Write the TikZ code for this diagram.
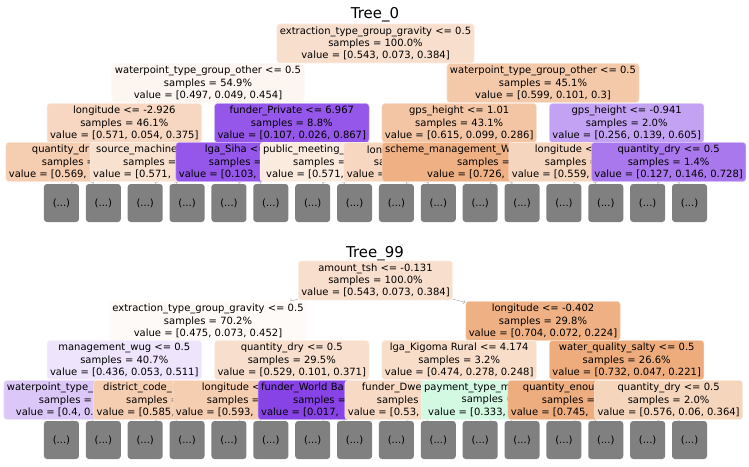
\documentclass[tikz,border=0pt]{standalone}
\usepackage{fontspec}
\setmainfont{DejaVu Sans}
\usetikzlibrary{backgrounds}
\definecolor{cls0}{RGB}{229,129,57}
\definecolor{cls1}{RGB}{57,229,129}
\definecolor{cls2}{RGB}{129,57,229}
\newlength{\pxu}
\setlength{\pxu}{0.75pt}
\newcommand{\trunc}[2]{\makebox[#2\pxu][l]{#1}}

\begin{document}
\begin{tikzpicture}[x=0.75pt, y=-0.75pt,
        box/.style = {draw=#1!50!white, fill=#1, rounded corners=2.25pt, align=center, inner xsep=2.25pt, inner ysep=0pt, minimum height=29.25pt, font=\fontsize{7.5}{9.2}\selectfont, execute at begin node={\rule{0pt}{7pt}}},
        more/.style = {fill=gray, rounded corners=2.25pt, minimum width=26.25pt, minimum height=28.5pt, inner sep=0pt, font=\fontsize{7.5}{9}\selectfont},
        heading/.style = {anchor=base, font=\fontsize{11.2}{13}\selectfont},
        branch/.style = {draw=gray!60, line width=0.4pt, ->},]
        \useasboundingbox (0,0) rectangle (749,467);

        \node[heading] (t0) at (375,19) {Tree\_0};
        \node[box=cls0!25.8!white] (a1) at (375.5,43.5) {extraction\_type\_group\_gravity <= 0.5\\samples = 100.0\%\\value = [0.543, 0.073, 0.384]};
        \node[box=cls0!7.9!white] (a2) at (208,83) {waterpoint\_type\_group\_other <= 0.5\\samples = 54.9\%\\value = [0.497, 0.049, 0.454]};
        \node[box=cls0!42.7!white] (a3) at (543,83) {waterpoint\_type\_group\_other <= 0.5\\samples = 45.1\%\\value = [0.599, 0.101, 0.3]};
        \node[box=cls0!31.4!white] (a4) at (124.3,123) {longitude <= -2.926\\samples = 46.1\%\\value = [0.571, 0.054, 0.375]};
        \node[box=cls2!85.1!white] (a5) at (291.8,123) {funder\_Private <= 6.967\\samples = 8.8\%\\value = [0.107, 0.026, 0.867]};
        \node[box=cls0!46.1!white] (a6) at (459.2,123) {gps\_height <= 1.01\\samples = 43.1\%\\value = [0.615, 0.099, 0.286]};
        \node[box=cls2!46.9!white] (a7) at (626.7,123) {gps\_height <= -0.941\\samples = 2.0\%\\value = [0.256, 0.139, 0.605]};
        \node[box=cls0!40!white] (a8) at (82.4,162) {\trunc{quantity\_dr}{101}\\\trunc{samples =}{81}\\\trunc{value = [0.569,}{147}};
        \node[box=cls0!24!white] (a9) at (166.2,162) {\trunc{source\_machine}{140}\\\trunc{samples =}{86}\\\trunc{value = [0.571,}{146}};
        \node[box=cls2!85!white] (a10) at (249.9,162) {\trunc{lga\_Siha <=}{90}\\\trunc{samples =}{82}\\\trunc{value = [0.103,}{142}};
        \node[box=cls0!16!white] (a11) at (333.6,162) {\trunc{public\_meeting\_}{141}\\\trunc{samples =}{81}\\\trunc{value = [0.571,}{135}};
        \node[box=cls0!32!white] (a12) at (417.4,162) {\trunc{lon}{101}\\\trunc{sa}{87}\\\trunc{value =}{141}};
        \node[box=cls0!62!white] (a13) at (501.1,162) {\trunc{scheme\_management\_W}{232}\\\trunc{samples =}{88}\\\trunc{value = [0.726,}{148}};
        \node[box=cls0!33!white] (a14) at (584.9,162) {\trunc{longitude <}{100}\\\trunc{samples =}{80}\\\trunc{value = [0.559,}{146}};
        \node[box=cls2!68.1!white] (a15) at (668.6,162) {quantity\_dry <= 0.5\\samples = 1.4\%\\value = [0.127, 0.146, 0.728]};

        \node[heading] (t99) at (375,257) {Tree\_99};
        \node[box=cls0!25.8!white] (b1) at (375.5,280.5) {amount\_tsh <= -0.131\\samples = 100.0\%\\value = [0.543, 0.073, 0.384]};
        \node[box=cls0!4.2!white] (b2) at (208,321) {extraction\_type\_group\_gravity <= 0.5\\samples = 70.2\%\\value = [0.475, 0.073, 0.452]};
        \node[box=cls0!61.9!white] (b3) at (543,321) {longitude <= -0.402\\samples = 29.8\%\\value = [0.704, 0.072, 0.224]};
        \node[box=cls2!13.3!white] (b4) at (124.3,360) {management\_wug <= 0.5\\samples = 40.7\%\\value = [0.436, 0.053, 0.511]};
        \node[box=cls0!25.1!white] (b5) at (291.8,360) {quantity\_dry <= 0.5\\samples = 29.5\%\\value = [0.529, 0.101, 0.371]};
        \node[box=cls0!27.1!white] (b6) at (459.2,360) {lga\_Kigoma Rural <= 4.174\\samples = 3.2\%\\value = [0.474, 0.278, 0.248]};
        \node[box=cls0!65.6!white] (b7) at (626.7,360) {water\_quality\_salty <= 0.5\\samples = 26.6\%\\value = [0.732, 0.047, 0.221]};
        \node[box=cls2!28!white] (b8) at (82.4,400) {\trunc{waterpoint\_type\_}{151}\\\trunc{samples =}{87}\\\trunc{value = [0.4, 0.}{133}};
        \node[box=cls0!40!white] (b9) at (166.2,400) {\trunc{district\_code\_<}{126}\\\trunc{samples =}{80}\\\trunc{value = [0.585,}{139}};
        \node[box=cls0!40!white] (b10) at (249.9,400) {\trunc{longitude <}{96}\\\trunc{samples =}{86}\\\trunc{value = [0.593,}{148}};
        \node[box=cls2!95!white] (b11) at (333.6,400) {\trunc{funder\_World Ba}{145}\\\trunc{samples =}{81}\\\trunc{value = [0.017,}{145}};
        \node[box=cls0!30!white] (b12) at (417.4,400) {\trunc{funder\_Dwe}{111}\\\trunc{samples}{81}\\\trunc{value = [0.53,}{139}};
        \node[box=cls1!22!white] (b13) at (501.1,400) {\trunc{payment\_type\_m}{154}\\\trunc{samples =}{79}\\\trunc{value = [0.333,}{146}};
        \node[box=cls0!65!white] (b14) at (584.9,400) {\trunc{quantity\_enou}{124}\\\trunc{samples =}{86}\\\trunc{value = [0.745,}{148}};
        \node[box=cls0!33.3!white] (b15) at (668.6,400) {quantity\_dry <= 0.5\\samples = 2.0\%\\value = [0.576, 0.06, 0.364]};

        \foreach \k in {16,...,31} {
            \node[more] (a\k) at ({375.5+(\k-23.5)*41.87},203) {(...)};
            \node[more] (b\k) at ({375.5+(\k-23.5)*41.87},440) {(...)};
        }

        \begin{scope}[on background layer]
            \foreach \k in {2,...,31} {
                \pgfmathtruncatemacro\parent{\k/2}
                \draw[branch] (a\parent) -- (a\k);
                \draw[branch] (b\parent) -- (b\k);
            }
        \end{scope}
    \end{tikzpicture}
\end{document}
